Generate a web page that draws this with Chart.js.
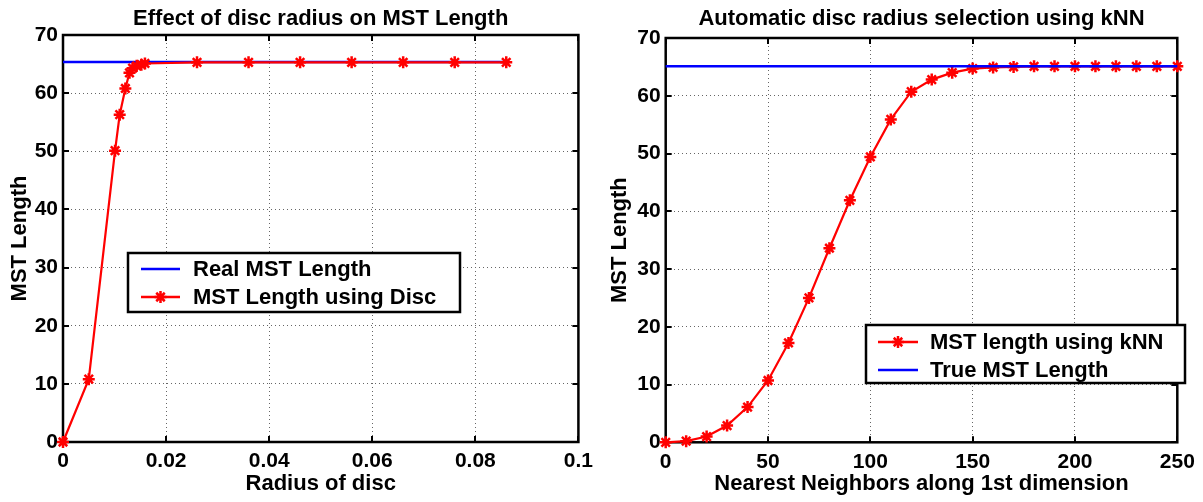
<!DOCTYPE html>
<html>
<head>
<meta charset="utf-8">
<script src="https://cdn.jsdelivr.net/npm/chart.js@4.4.1/dist/chart.umd.min.js"></script>
<style>
  html, body { margin: 0; padding: 0; background: #fff; overflow: hidden; }
  #wrap { position: relative; width: 1203px; height: 502px; }
  .pane { position: absolute; top: 0; height: 502px; }
</style>
</head>
<body>
<div id="wrap">
  <div class="pane" style="left:0;width:600px"><canvas id="discChart" width="600" height="502"></canvas></div>
  <div class="pane" style="left:600px;width:603px"><canvas id="knnChart" width="603" height="502"></canvas></div>
</div>
<script>
// left plot: MST length vs disc radius
const discRadius = [0, 0.005, 0.0101, 0.011, 0.0121, 0.0129, 0.0135, 0.0143, 0.0152, 0.0159,
                    0.026, 0.036, 0.046, 0.056, 0.066, 0.076, 0.086];
const discMst = [0, 10.8, 50.1, 56.3, 60.8, 63.5, 64.3, 64.7, 64.9, 65.1,
                 65.3, 65.3, 65.3, 65.3, 65.3, 65.3, 65.3];
const realMstX = [0, 0.086];
const realMst = [65.35, 65.35];

// right plot: MST length vs number of nearest neighbours
const knnNeighbors = [0, 10, 20, 30, 40, 50, 60, 70, 80, 90, 100, 110, 120, 130, 140, 150,
                      160, 170, 180, 190, 200, 210, 220, 230, 240, 250];
const knnMst = [0, 0.2, 1.0, 2.9, 6.1, 10.7, 17.2, 25.0, 33.6, 41.9, 49.4, 55.9, 60.7, 62.8, 64.0, 64.7,
                64.9, 65.0, 65.1, 65.1, 65.1, 65.1, 65.1, 65.1, 65.1, 65.1];
const trueMstX = [0, 250];
const trueMst = [65.1, 65.1];

const discTicks = [0, 0.02, 0.04, 0.06, 0.08, 0.1];
const discTickLabels = ["0", "0.02", "0.04", "0.06", "0.08", "0.1"];
const knnTicks = [0, 50, 100, 150, 200, 250];
const mstTicks = [0, 10, 20, 30, 40, 50, 60, 70];

const FONT = "'Liberation Sans', Arial, Helvetica, sans-serif";
Chart.defaults.font.family = FONT;
Chart.defaults.font.weight = "bold";
Chart.defaults.color = "#000";

function pts(xs, ys) {
  return xs.map((x, i) => ({ x: x, y: ys[i] }));
}

// box around the axes with inward tick marks, like matlab
const framePlugin = {
  id: "frame",
  beforeDatasetsDraw(chart) {
    const { ctx, chartArea: a, scales: { x, y } } = chart;
    ctx.save();
    ctx.strokeStyle = "#000";
    ctx.lineWidth = 2;
    ctx.beginPath();
    x.ticks.forEach(t => {
      const px = Math.round(x.getPixelForValue(t.value));
      ctx.moveTo(px, a.bottom); ctx.lineTo(px, a.bottom - 6);
      ctx.moveTo(px, a.top); ctx.lineTo(px, a.top + 6);
    });
    y.ticks.forEach(t => {
      const py = Math.round(y.getPixelForValue(t.value));
      ctx.moveTo(a.left, py); ctx.lineTo(a.left + 6, py);
      ctx.moveTo(a.right, py); ctx.lineTo(a.right - 6, py);
    });
    ctx.stroke();
    ctx.lineWidth = 2.5;
    ctx.strokeRect(a.left, a.top, a.right - a.left, a.bottom - a.top);
    ctx.restore();
  }
};

// title centred over the plot area
const titlePlugin = {
  id: "plotTitle",
  afterDraw(chart, args, opts) {
    const { ctx, chartArea: a } = chart;
    ctx.save();
    ctx.font = "bold 22px " + FONT;
    ctx.fillStyle = "#000";
    ctx.textAlign = "center";
    ctx.textBaseline = "middle";
    ctx.fillText(opts.text, (a.left + a.right) / 2, opts.y);
    ctx.restore();
  }
};

// legend box drawn inside the axes
const boxLegendPlugin = {
  id: "boxLegend",
  afterDraw(chart, args, opts) {
    const ctx = chart.ctx;
    const [bx, by, bw, bh] = opts.box;
    ctx.save();
    ctx.fillStyle = "#fff";
    ctx.fillRect(bx, by, bw, bh);
    ctx.strokeStyle = "#000";
    ctx.lineWidth = 2.5;
    ctx.strokeRect(bx, by, bw, bh);
    ctx.font = "bold 22px " + FONT;
    ctx.textBaseline = "middle";
    ctx.textAlign = "left";
    opts.rows.forEach(r => {
      ctx.strokeStyle = r.color;
      ctx.lineWidth = 2.5;
      ctx.beginPath();
      ctx.moveTo(opts.lineX[0], r.y);
      ctx.lineTo(opts.lineX[1], r.y);
      ctx.stroke();
      if (r.star) {
        Chart.helpers.drawPoint(ctx, { pointStyle: "star", radius: 6, borderWidth: 2.5 },
          (opts.lineX[0] + opts.lineX[1]) / 2, r.y);
      }
      ctx.fillStyle = "#000";
      ctx.fillText(r.label, opts.textX, r.y + 1);
    });
    ctx.restore();
  }
};

function makeScales(xMin, xMax, xTicks, xTitle, fmt, yWidth, xHeight) {
  const gridOpts = { color: "#666", lineWidth: 1, drawTicks: false };
  return {
    x: {
      type: "linear", min: xMin, max: xMax,
      afterBuildTicks: s => { s.ticks = xTicks.map(v => ({ value: v })); },
      afterFit: s => { s.height = xHeight; },
      ticks: { font: { size: 21, weight: "bold" }, padding: 7, callback: fmt, maxRotation: 0 },
      grid: gridOpts,
      border: { display: false, dash: [1, 3] },
      title: { display: true, text: xTitle, font: { size: 22, weight: "bold" }, padding: { top: 0, bottom: 5 } }
    },
    y: {
      type: "linear", min: 0, max: 70,
      afterBuildTicks: s => { s.ticks = mstTicks.map(v => ({ value: v })); },
      afterFit: s => { s.width = yWidth; },
      ticks: { font: { size: 21, weight: "bold" }, padding: 5 },
      grid: gridOpts,
      border: { display: false, dash: [1, 3] },
      title: { display: true, text: "MST Length", font: { size: 22, weight: "bold" }, padding: { top: 7, bottom: 0 } }
    }
  };
}

new Chart(document.getElementById("discChart"), {
  type: "line",
  data: {
    datasets: [
      {
        label: "MST Length using Disc",
        data: pts(discRadius, discMst),
        borderColor: "#ff0000", borderWidth: 2.2,
        pointStyle: "star", pointRadius: 6, pointBorderWidth: 2.5,
        pointBorderColor: "#ff0000", pointBackgroundColor: "#ff0000",
        tension: 0, clip: false, order: 0
      },
      {
        label: "Real MST Length",
        data: pts(realMstX, realMst),
        borderColor: "#0000ff", borderWidth: 2.5,
        pointRadius: 0, tension: 0, clip: false, order: 1
      }
    ]
  },
  options: {
    responsive: false,
    animation: false,
    events: [],
    layout: { padding: { top: 35, right: 21, left: 0, bottom: 0 } },
    scales: makeScales(0, 0.1, discTicks, "Radius of disc",
      (v) => discTickLabels[discTicks.indexOf(v)] ?? String(v), 63, 60),
    plugins: {
      legend: { display: false },
      tooltip: { enabled: false },
      plotTitle: { text: "Effect of disc radius on MST Length", y: 19 },
      boxLegend: {
        box: [128, 253, 332, 59],
        lineX: [141, 180],
        textX: 193,
        rows: [
          { label: "Real MST Length", color: "#0000ff", star: false, y: 269 },
          { label: "MST Length using Disc", color: "#ff0000", star: true, y: 297 }
        ]
      }
    }
  },
  plugins: [framePlugin, titlePlugin, boxLegendPlugin]
});

new Chart(document.getElementById("knnChart"), {
  type: "line",
  data: {
    datasets: [
      {
        label: "MST length using kNN",
        data: pts(knnNeighbors, knnMst),
        borderColor: "#ff0000", borderWidth: 2.2,
        pointStyle: "star", pointRadius: 6, pointBorderWidth: 2.5,
        pointBorderColor: "#ff0000", pointBackgroundColor: "#ff0000",
        tension: 0, clip: false, order: 1
      },
      {
        label: "True MST Length",
        data: pts(trueMstX, trueMst),
        borderColor: "#0000ff", borderWidth: 2.5,
        pointRadius: 0, tension: 0, clip: false, order: 0
      }
    ]
  },
  options: {
    responsive: false,
    animation: false,
    events: [],
    layout: { padding: { top: 38, right: 25.7, left: 0, bottom: 0 } },
    scales: makeScales(0, 250, knnTicks, "Nearest Neighbors along 1st dimension",
      (v) => String(v), 65.7, 59.7),
    plugins: {
      legend: { display: false },
      tooltip: { enabled: false },
      plotTitle: { text: "Automatic disc radius selection using kNN", y: 19 },
      boxLegend: {
        box: [266, 325, 319, 58],
        lineX: [278, 318],
        textX: 330,
        rows: [
          { label: "MST length using kNN", color: "#ff0000", star: true, y: 342 },
          { label: "True MST Length", color: "#0000ff", star: false, y: 370 }
        ]
      }
    }
  },
  plugins: [framePlugin, titlePlugin, boxLegendPlugin]
});
</script>
</body>
</html>
